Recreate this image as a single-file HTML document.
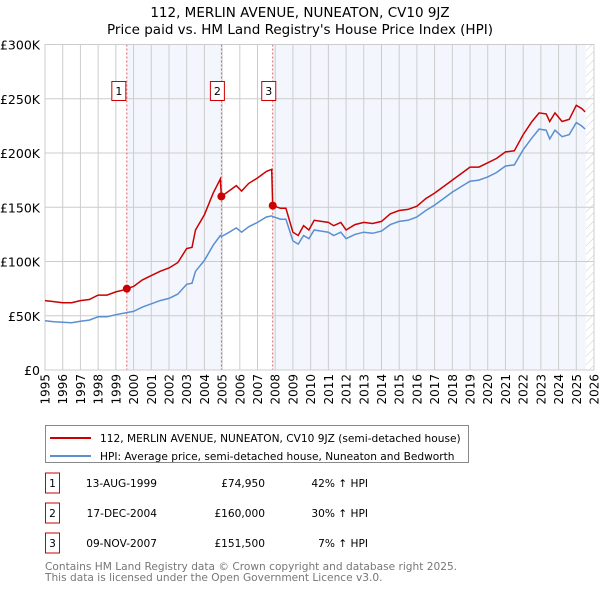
<!DOCTYPE html>
<html><head><meta charset="utf-8"><style>
body{margin:0;background:#fff;font-family:"Liberation Sans","DejaVu Sans",sans-serif;}
svg text{font-family:"DejaVu Sans","Liberation Sans",sans-serif;}
</style></head><body>
<svg id="c" width="600" height="590" xmlns="http://www.w3.org/2000/svg">
<defs><pattern id="hatch" width="6" height="6" patternUnits="userSpaceOnUse" patternTransform="rotate(45)"><line x1="0" y1="0" x2="0" y2="6" stroke="#ccc" stroke-width="1"/></pattern></defs>
<text x="300" y="17" text-anchor="middle" font-size="13.5">112, MERLIN AVENUE, NUNEATON, CV10 9JZ</text>
<text x="300" y="34" text-anchor="middle" font-size="13.5">Price paid vs. HM Land Registry's House Price Index (HPI)</text>
<g id="plot"></g>
<g>
<rect x="45.5" y="425.5" width="423" height="37" fill="#fff" stroke="#888"/>
<line x1="50" y1="438" x2="91" y2="438" stroke="#cc0000" stroke-width="2"/>
<text x="100" y="442" font-size="10.6">112, MERLIN AVENUE, NUNEATON, CV10 9JZ (semi-detached house)</text>
<line x1="50" y1="456" x2="91" y2="456" stroke="#5b8fd0" stroke-width="2"/>
<text x="100" y="460" font-size="10.6">HPI: Average price, semi-detached house, Nuneaton and Bedworth</text>
</g>
<g id="tbl" font-size="10.6"></g>
<text x="45" y="570" font-size="10.6" fill="#777">Contains HM Land Registry data © Crown copyright and database right 2025.</text>
<text x="45" y="581" font-size="10.6" fill="#777">This data is licensed under the Open Government Licence v3.0.</text>
</svg>
<script>
const dates=[1995.0,1995.5,1996.0,1996.5,1997.0,1997.5,1998.0,1998.5,1999.0,1999.5,1999.62,2000.0,2000.5,2001.0,2001.5,2002.0,2002.5,2003.0,2003.3,2003.5,2004.0,2004.5,2004.9,2004.96,2005.3,2005.8,2006.1,2006.5,2007.0,2007.5,2007.8,2007.86,2008.3,2008.6,2009.0,2009.3,2009.6,2009.9,2010.2,2010.6,2011.0,2011.3,2011.7,2012.0,2012.5,2013.0,2013.5,2014.0,2014.5,2015.0,2015.5,2016.0,2016.5,2017.0,2017.5,2018.0,2018.5,2019.0,2019.5,2020.0,2020.5,2021.0,2021.5,2022.0,2022.5,2022.9,2023.3,2023.5,2023.8,2024.2,2024.6,2025.0,2025.3,2025.5];
const hpi=[45.4,44.5,44,43.5,45,46,49,49,51,52.5,53,54,58,61,64,66,70,79,80,91,101,115,124,123,126,131,127,132,136,141,142,141.5,139,139,119,116,124,121,129,128,127,124,127,121,125,127,126,128,134,137,138,141,147,152,158,164,169,174,175,178,182,188,189,203,214,222,221,213,221,215,217,228,225,222];
const price=[64,63,62,62,64,65,69,69,72,74,75,77,83,87,91,94,99,112,113,129,143,163,176,160,164,170,165,172,177,183,185,151.5,149,149,127,124,133,129,138,137,136,133,136,129,134,136,135,137,144,147,148,151,158,163,169,175,181,187,187,191,195,201,202,217,229,237,236,229,237,229,231,244,241,238];
const saleDates=[1999.62,2004.96,2007.86];
const salePrices=[74.95,160,151.5];
const saleLabels=["1","2","3"];
const saleDateText=["13-AUG-1999","17-DEC-2004","09-NOV-2007"];
const salePriceText=["£74,950","£160,000","£151,500"];
const salePctText=["42% ↑ HPI","30% ↑ HPI","7% ↑ HPI"];
const yTicks=[0,50,100,150,200,250,300];
const yTickLabels=["£0","£50K","£100K","£150K","£200K","£250K","£300K"];
const xStart=1995,xEnd=2026,dataEnd=2025.55;

const NS="http://www.w3.org/2000/svg";
const L=45,R=594,T=44.5,B=370;
const X=v=>L+(v-xStart)/(xEnd-xStart)*(R-L);
const Y=v=>B-v/300*(B-T);
const plot=document.getElementById('plot');
function mk(tag,attrs,parent){const e=document.createElementNS(NS,tag);for(const k in attrs)e.setAttribute(k,attrs[k]);(parent||plot).appendChild(e);return e;}
let s1=mk('rect',{x:X(saleDates[0]),y:T,width:X(saleDates[1])-X(saleDates[0]),height:B-T,fill:'#eef3fc',opacity:0.7});


let s2=mk('rect',{x:X(saleDates[2]),y:T,width:X(dataEnd)-X(saleDates[2]),height:B-T,fill:'#eef3fc',opacity:0.7});


let hz=mk('rect',{x:X(dataEnd),y:T,width:R-X(dataEnd),height:B-T,fill:'url(#hatch)'});


for(let yr=xStart;yr<=xEnd;yr++){
  let g=mk('line',{x1:X(yr),x2:X(yr),y1:T,y2:B,stroke:'#ccc','stroke-width':1});
  
  
  let t=mk('text',{x:0,y:0,'font-size':12,'text-anchor':'end',transform:`translate(${X(yr)+4.5},${B+4}) rotate(-90)`});
  t.textContent=yr;
  
  
}
yTicks.forEach((v,i)=>{
  let g=mk('line',{x1:L,x2:R,y1:Y(v),y2:Y(v),stroke:'#ccc','stroke-width':1});
  
  
  let t=mk('text',{x:L-5,y:Y(v)+5,'font-size':12.5,'text-anchor':'end'});
  t.textContent=yTickLabels[i];
  
  
});
saleDates.forEach((d,i)=>{
  let l=mk('line',{x1:X(d),x2:X(d),y1:T,y2:B,stroke:'#e06060','stroke-width':1,'stroke-dasharray':'2,2'});
  
  
  let bx=X(d)-(i===0?8:4)-7;
  let r=mk('rect',{x:bx,y:81.5,width:14,height:19,fill:'#fff',stroke:'#cc0000'});
  
  
  let t=mk('text',{x:bx+7,y:95,'font-size':11,'text-anchor':'middle'});
  t.textContent=saleLabels[i];
  
  
});
let ax=mk('rect',{x:L,y:T,width:R-L,height:B-T,fill:'none',stroke:'#ccc'});


const pts=a=>a.map((v,i)=>X(dates[i]).toFixed(1)+','+Y(v).toFixed(1)).join(' ');
let hl=mk('polyline',{points:pts(hpi),fill:'none',stroke:'#5b8fd0','stroke-width':1.5});


let pl=mk('polyline',{points:pts(price),fill:'none',stroke:'#cc0000','stroke-width':1.5});


saleDates.forEach((d,i)=>{
  let c=mk('circle',{cx:X(d),cy:Y(salePrices[i]),r:4,fill:'#cc0000'});
  
  
});
const tbl=document.getElementById('tbl');
saleDates.forEach((d,i)=>{
  const y=473+i*30;
  let r=mk('rect',{x:45.5,y:y,width:14,height:20,fill:'#fff',stroke:'#cc0000'},tbl);
  
  
  let cells=[[52.5,'middle',saleLabels[i]],[157,'end',saleDateText[i]],[265,'end',salePriceText[i]],[368,'end',salePctText[i]]];
  cells.forEach(([x,a,s])=>{
    let t=mk('text',{x:x,y:y+14,'text-anchor':a},tbl);
    t.textContent=s;
    
    
  });
});
</script>
</body></html>
